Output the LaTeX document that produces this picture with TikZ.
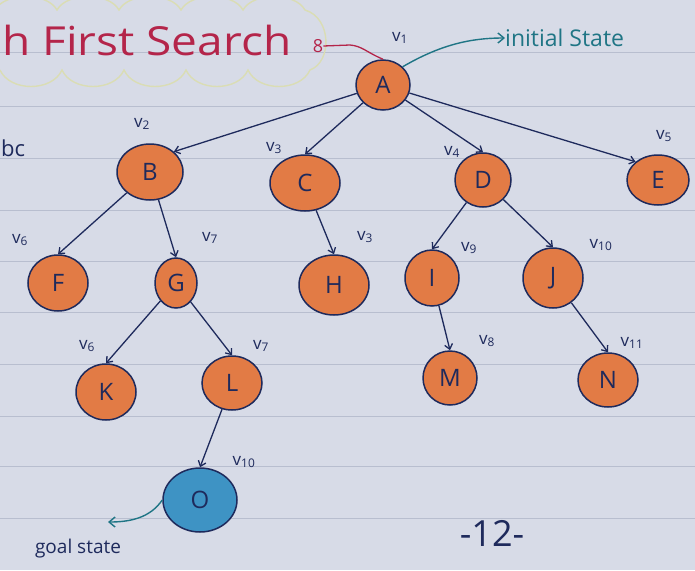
\documentclass[tikz,border=0pt]{standalone}
\usepackage{fontspec}
\setmainfont{Open Sans}
\usetikzlibrary{shapes.geometric,arrows.meta}
\definecolor{paper}{HTML}{D7DBE7}
\definecolor{rule}{HTML}{B8BECF}
\definecolor{ink}{HTML}{1E2A5C}
\definecolor{orng}{HTML}{E27B45}
\definecolor{goalblue}{HTML}{3E93C4}
\definecolor{titlered}{HTML}{B4254A}
\definecolor{teal}{HTML}{1F7585}
\definecolor{cloudline}{HTML}{DADDB4}
\tikzset{
  st/.style={ellipse, draw=ink, line width=1.5pt, fill=orng, inner sep=0pt,
    text=ink, font=\fontsize{24}{24}\selectfont},
  lab/.style={text=ink, font=\fontsize{17}{17}\selectfont, inner sep=0pt},
  tree/.style={draw=ink, line width=1.3pt, -{Straight Barb[length=5pt,width=8pt]}},
  note/.style={draw=teal, line width=1.4pt, -{Straight Barb[length=6pt,width=10pt]}},
}
\begin{document}
\begin{tikzpicture}[x=1pt,y=-1pt]
  % notebook page
  \useasboundingbox (0,0) rectangle (695,570);
  \fill[paper] (0,0) rectangle (695,570);
  \foreach \yy in {52,106,158,210,261,312,364,416,466,518}
    \draw[rule, line width=0.9pt] (0,\yy) -- (695,\yy);

  % cloud round the heading
  \draw[cloudline, line width=1.4pt]
    (0,70) \foreach \xx in {0,62,124,186,248} {
      .. controls (\xx+10,92) and (\xx+52,92) .. (\xx+62,70) }
    .. controls (332,62) and (332,18) .. (305,10)
    \foreach \xx in {305,243,181,119,57} {
      .. controls (\xx-10,-8) and (\xx-52,-8) .. (\xx-62,10) };

  % heading and side notes
  \node[text=titlered, font=\fontsize{40}{40}\selectfont, anchor=west, inner sep=0pt,
    xscale=1.15] (title) at (2,40) {h First Search};
  \node[text=titlered, font=\fontsize{18}{18}\selectfont, inner sep=0pt]
    (mark) at (318,46) {8};
  \node[text=ink, font=\fontsize{22}{22}\selectfont, anchor=west, inner sep=0pt]
    (bc) at (1,148) {bc};
  \node[text=teal, font=\fontsize{23}{23}\selectfont, anchor=west, inner sep=0pt]
    (init) at (505,38) {initial State};
  \node[text=ink, font=\fontsize{19}{19}\selectfont, inner sep=0pt]
    (goal) at (78,549) {goal state};
  \node[text=ink, font=\fontsize{36}{36}\selectfont, inner sep=0pt]
    (page) at (492,533) {-12-};
  \coordinate (goaltip) at (108,522);

  % states
  \node[st, minimum width=54pt, minimum height=50pt] (A) at (383,85) {A};
  \node[st, minimum width=66pt, minimum height=56pt] (B) at (150,172) {B};
  \node[st, minimum width=70pt, minimum height=56pt] (C) at (305,183) {C};
  \node[st, minimum width=56pt, minimum height=54pt] (D) at (483,180) {D};
  \node[st, minimum width=62pt, minimum height=50pt] (E) at (658,180) {E};
  \node[st, minimum width=60pt, minimum height=56pt] (F) at (58,283) {F};
  \node[st, minimum width=42pt, minimum height=50pt] (G) at (176,283) {G};
  \node[st, minimum width=70pt, minimum height=60pt] (H) at (334,285) {H};
  \node[st, minimum width=54pt, minimum height=56pt] (I) at (432,278) {I};
  \node[st, minimum width=60pt, minimum height=60pt] (J) at (553,278) {J};
  \node[st, minimum width=60pt, minimum height=56pt] (K) at (106,392) {K};
  \node[st, minimum width=60pt, minimum height=54pt] (L) at (232,383) {L};
  \node[st, minimum width=54pt, minimum height=54pt] (M) at (450,378) {M};
  \node[st, minimum width=60pt, minimum height=54pt] (N) at (608,380) {N};
  \node[st, fill=goalblue, minimum width=74pt, minimum height=64pt] (O) at (200,500) {O};

  % visit labels
  \node[lab] (vA) at (400,38) {v\textsubscript{1}};
  \node[lab] (vB) at (142,124) {v\textsubscript{2}};
  \node[lab] (vC) at (274,148) {v\textsubscript{3}};
  \node[lab] (vD) at (452,152) {v\textsubscript{4}};
  \node[lab] (vE) at (664,136) {v\textsubscript{5}};
  \node[lab] (vF) at (20,240) {v\textsubscript{6}};
  \node[lab] (vG) at (210,238) {v\textsubscript{7}};
  \node[lab] (vH) at (365,237) {v\textsubscript{3}};
  \node[lab] (vI) at (469,248) {v\textsubscript{9}};
  \node[lab] (vJ) at (601,245) {v\textsubscript{10}};
  \node[lab] (vK) at (87,346) {v\textsubscript{6}};
  \node[lab] (vL) at (261,346) {v\textsubscript{7}};
  \node[lab] (vM) at (487,341) {v\textsubscript{8}};
  \node[lab] (vN) at (632,343) {v\textsubscript{11}};
  \node[lab] (vO) at (244,462) {v\textsubscript{10}};

  % search tree
  \draw[tree] (A) -- (B.north east);
  \draw[tree] (A) -- (C.north);
  \draw[tree] (A) -- (D.north);
  \draw[tree] (A) -- (E.north west);
  \draw[tree] (B) -- (F.north);
  \draw[tree] (B) -- (G.north);
  \draw[tree] (C) -- (H.north);
  \draw[tree] (D) -- (I.north);
  \draw[tree] (D) -- (J.north);
  \draw[tree] (G) -- (K.north);
  \draw[tree] (G) -- (L.north);
  \draw[tree] (I) -- (M.north);
  \draw[tree] (J) -- (N.north);
  \draw[tree] (L) -- (O.north);

  % pointers to the start and goal
  \draw[titlered, line width=1.3pt] (mark.east) -- (350,45)
    .. controls (362,46) and (366,52) .. (A.north);
  \draw[note] (A.north east) .. controls (440,45) and (470,38) .. (init.west);
  \draw[note] (O.west) .. controls (150,518) and (130,522) .. (goaltip);
\end{tikzpicture}
\end{document}
